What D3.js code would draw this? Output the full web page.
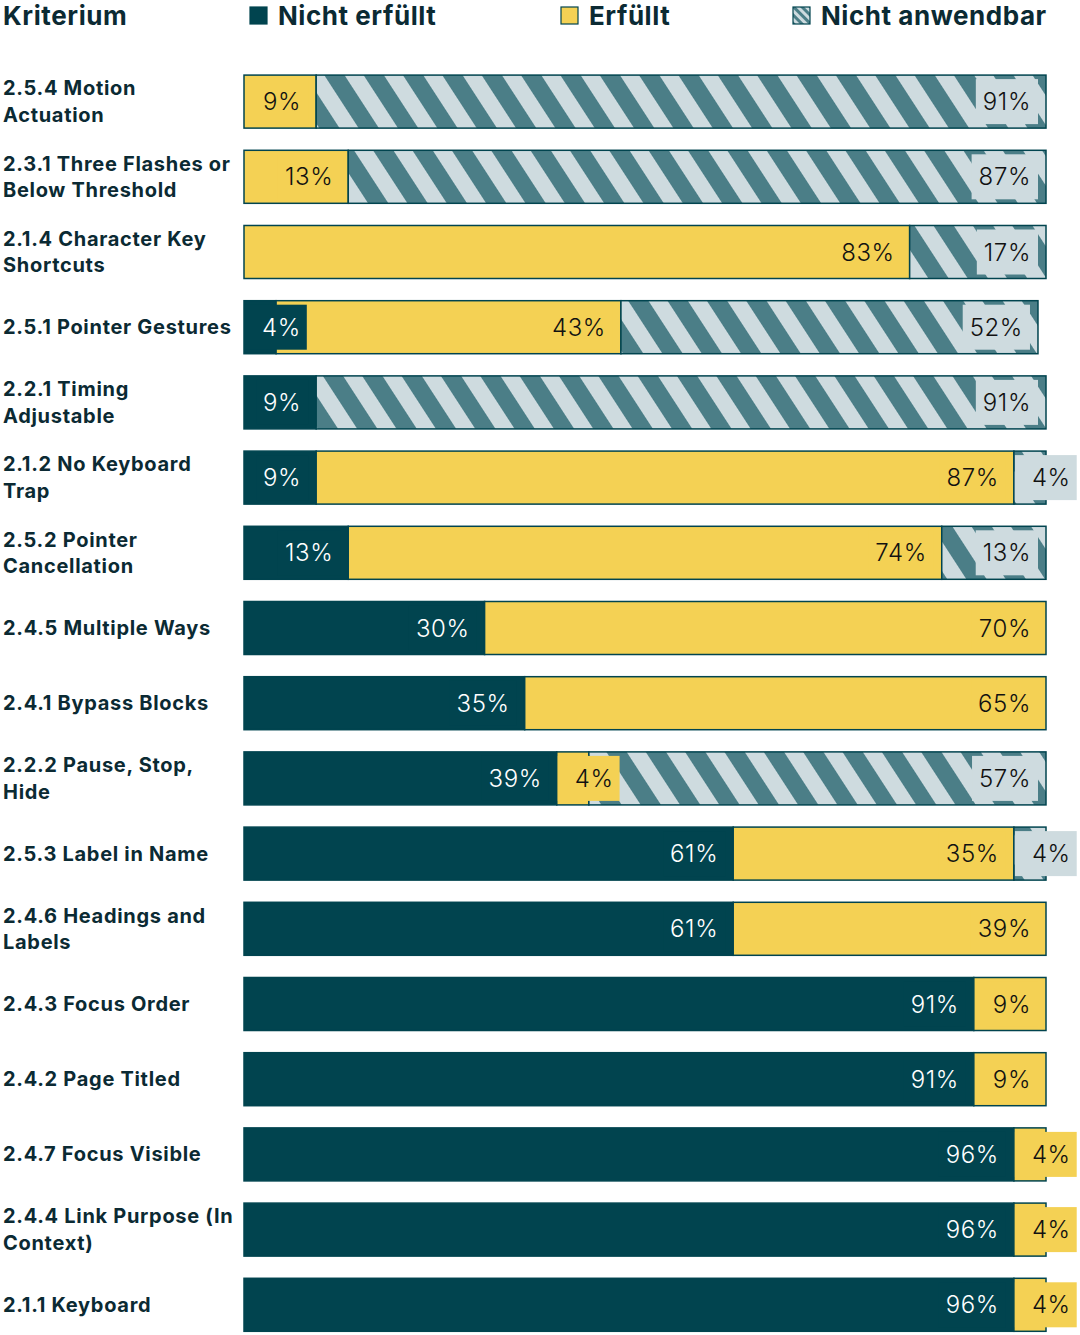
<!DOCTYPE html>
<html>
<head>
	<meta charset="utf-8">
	<script src="https://d3js.org/d3.v7.min.js"></script>
	<title>WCAG Kriterien</title>
	<style>
		body { margin: 0; background: #fff; }
		svg text { font-family: Inter, "Noto Sans", sans-serif; }
	</style>
</head>
<body>
	<div id="chart"></div>

	<script type="text/javascript">

		// categories (line breaks as in the original)
		var categories = [
			"2.5.4 Motion\nActuation",
			"2.3.1 Three Flashes or\nBelow Threshold",
			"2.1.4 Character Key\nShortcuts",
			"2.5.1 Pointer Gestures",
			"2.2.1 Timing\nAdjustable",
			"2.1.2 No Keyboard\nTrap",
			"2.5.2 Pointer\nCancellation",
			"2.4.5 Multiple Ways",
			"2.4.1 Bypass Blocks",
			"2.2.2 Pause, Stop,\nHide",
			"2.5.3 Label in Name",
			"2.4.6 Headings and\nLabels",
			"2.4.3 Focus Order",
			"2.4.2 Page Titled",
			"2.4.7 Focus Visible",
			"2.4.4 Link Purpose (In\nContext)",
			"2.1.1 Keyboard"
		];

		var nichtErfuellt  = [0, 0, 0, 4, 9, 9, 13, 30, 35, 39, 61, 61, 91, 91, 96, 96, 96];
		var erfuellt       = [9, 13, 83, 43, 0, 87, 74, 70, 65, 4, 35, 39, 9, 9, 4, 4, 4];
		var nichtAnwendbar = [91, 87, 17, 52, 91, 4, 13, 0, 0, 57, 4, 0, 0, 0, 0, 0, 0];

		var seriesKeys   = ["ne", "e", "na"];
		var seriesNames  = ["Nicht erfüllt", "Erfüllt", "Nicht anwendbar"];

		var darkColor  = "#01444f";
		var yellow     = "#f4d154";
		var hatchDark  = "#4b7e87";
		var hatchLight = "#cedbdf";
		var textColor  = "#0b2a33";

		var width = 1080, height = 1335;

		var rows = categories.map(function(c, i){
			return { cat: c, ne: nichtErfuellt[i], e: erfuellt[i], na: nichtAnwendbar[i] };
		});

		var svg = d3.select("#chart").append("svg")
			.attr("width", width)
			.attr("height", height);

		// hatch pattern
		var defs = svg.append("defs");
		var pat = defs.append("pattern")
			.attr("id", "hatch")
			.attr("patternUnits", "userSpaceOnUse")
			.attr("width", 33)
			.attr("height", 33)
			.attr("patternTransform", "rotate(-33)");
		pat.append("rect").attr("width", 33).attr("height", 33).attr("fill", hatchLight);
		pat.append("rect").attr("width", 17).attr("height", 33).attr("fill", hatchDark);

		var patSmall = defs.append("pattern")
			.attr("id", "hatchSmall")
			.attr("patternUnits", "userSpaceOnUse")
			.attr("width", 6)
			.attr("height", 6)
			.attr("patternTransform", "rotate(-45)");
		patSmall.append("rect").attr("width", 6).attr("height", 6).attr("fill", hatchLight);
		patSmall.append("rect").attr("width", 3).attr("height", 6).attr("fill", hatchDark);

		var fills = { ne: darkColor, e: yellow, na: "url(#hatch)" };
		var boxFills = { ne: darkColor, e: yellow, na: hatchLight };
		var labelColors = { ne: "#ffffff", e: "#111111", na: "#111111" };

		var xScale = d3.scaleLinear()
			.domain([0, 100])
			.range([244, 1046]);

		var yScale = d3.scaleBand()
			.domain(categories)
			.range([64, 64 + 17 * 75.2])
			.paddingInner(0.295)
			.paddingOuter(0.1475);

		var stack = d3.stack().keys(seriesKeys);
		var stacked = stack(rows);

		// header + legend
		svg.append("text")
			.attr("x", 3).attr("y", 25)
			.attr("font-size", 26).attr("font-weight", 700)
			.attr("letter-spacing", 0.6)
			.attr("fill", textColor)
			.text("Kriterium");

		var legendX = [250, 561, 793];
		var legendFills = [darkColor, yellow, "url(#hatchSmall)"];
		var legend = svg.selectAll(".legend")
			.data(seriesNames).enter().append("g")
			.attr("class", "legend")
			.attr("transform", function(d, i){ return "translate(" + legendX[i] + ",0)"; });
		legend.append("rect")
			.attr("x", 0).attr("y", 7)
			.attr("width", 17).attr("height", 17)
			.attr("fill", function(d, i){ return legendFills[i]; })
			.attr("stroke", darkColor)
			.attr("stroke-width", 1.2);
		legend.append("text")
			.attr("x", 28).attr("y", 25)
			.attr("font-size", 26).attr("font-weight", 700)
			.attr("letter-spacing", 0.55)
			.attr("fill", textColor)
			.text(function(d){ return d; });

		// category labels
		svg.selectAll(".cat")
			.data(categories).enter().append("text")
			.attr("class", "cat")
			.attr("font-size", 20).attr("font-weight", 700)
			.attr("letter-spacing", 0.7)
			.attr("fill", textColor)
			.each(function(d){
				var lines = d.split("\n");
				var cy = yScale(d) + yScale.bandwidth() / 2;
				var lh = 26.5;
				var y0 = cy - (lines.length - 1) * lh / 2 + 7;
				var t = d3.select(this);
				lines.forEach(function(l, k){
					t.append("tspan").attr("x", 3).attr("y", y0 + k * lh).text(l);
				});
			});

		// segments
		var segs = [];
		stacked.forEach(function(layer){
			layer.forEach(function(p, i){
				if (p[1] - p[0] > 0) segs.push({ key: layer.key, x0: p[0], x1: p[1], cat: categories[i] });
			});
		});

		svg.selectAll(".seg")
			.data(segs).enter().append("rect")
			.attr("class", "seg")
			.attr("x", function(d){ return xScale(d.x0); })
			.attr("y", function(d){ return yScale(d.cat); })
			.attr("width", function(d){ return xScale(d.x1) - xScale(d.x0); })
			.attr("height", yScale.bandwidth())
			.attr("fill", function(d){ return fills[d.key]; })
			.attr("stroke", darkColor)
			.attr("stroke-width", 1.5);

		// value labels with background boxes
		var labels = svg.selectAll(".val")
			.data(segs).enter().append("g")
			.attr("class", "val");

		labels.each(function(d){
			var g = d3.select(this);
			var cy = yScale(d.cat) + yScale.bandwidth() / 2;
			var box = g.append("rect");
			var t = g.append("text")
				.attr("y", cy + 8.5)
				.attr("font-size", 24)
				.attr("font-weight", 300)
				.attr("letter-spacing", 0.6)
				.attr("text-anchor", "end")
				.attr("fill", labelColors[d.key])
				.text(Math.round(d.x1 - d.x0) + "%");
			var tw = t.node().getComputedTextLength();
			var s0 = xScale(d.x0), s1 = xScale(d.x1);
			var right = s1 - 15;
			var boxLeft, boxRight;
			if (right - tw < s0 + 14) {
				right = s0 + 18 + tw;
				boxLeft = s0 + 1;
				boxRight = right + 6;
			} else {
				boxLeft = right - tw - 7;
				boxRight = right + 7;
			}
			t.attr("x", right);
			box.attr("x", boxLeft)
				.attr("y", yScale(d.cat) + 4)
				.attr("width", boxRight - boxLeft)
				.attr("height", yScale.bandwidth() - 8)
				.attr("fill", boxFills[d.key]);
		});

	</script>
</body>
</html>
